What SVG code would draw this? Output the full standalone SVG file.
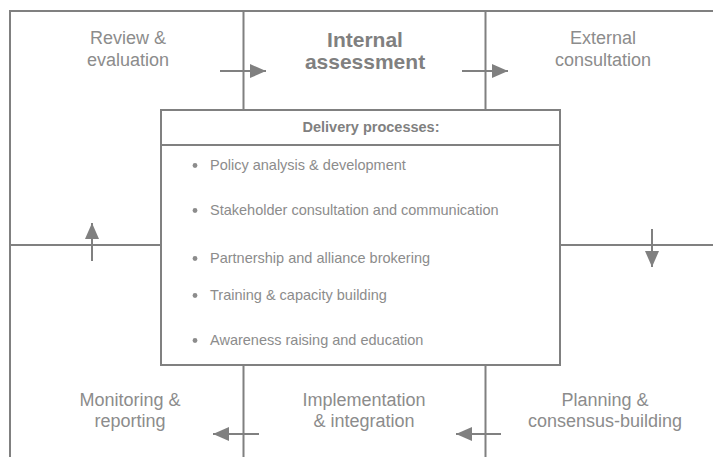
<svg xmlns="http://www.w3.org/2000/svg" width="713" height="457" viewBox="0 0 713 457">
<style>
.ln{stroke:#808080;stroke-width:2;fill:none}
.t{font-family:"Liberation Sans",Arial,sans-serif;fill:#8c8c8c;font-size:18px;text-anchor:middle}
.b{font-weight:bold;font-size:21px;fill:#808080}
.li{font-family:"Liberation Sans",Arial,sans-serif;fill:#8c8c8c;font-size:14.5px}
.hd{font-family:"Liberation Sans",Arial,sans-serif;fill:#808080;font-size:14.5px;font-weight:bold;text-anchor:middle}
.dot{fill:#8c8c8c}
</style>
<defs>
<marker id="ah" markerWidth="16" markerHeight="14" refX="16" refY="7" orient="auto" markerUnits="userSpaceOnUse">
<path d="M0,0 L16,7 L0,14 Z" fill="#808080"/>
</marker>
</defs>
<g id="frame">
<path class="ln" d="M10,457 V11 H713"/>
<path class="ln" d="M10,245 H161 M560,245 H713"/>
<path class="ln" d="M243.5,11 V110 M485.5,11 V110 M243.5,365 V457 M485.5,365 V457"/>
</g>
<g id="review"><text class="t" x="128" y="43.5">Review &amp;</text><text class="t" x="128" y="65.5">evaluation</text></g>
<g id="internal"><text class="t b" x="365" y="47">Internal</text><text class="t b" x="365" y="69">assessment</text></g>
<g id="external"><text class="t" x="603" y="43.5">External</text><text class="t" x="603" y="65.5">consultation</text></g>
<g id="monitoring"><text class="t" x="130" y="405.5">Monitoring &amp;</text><text class="t" x="130" y="427">reporting</text></g>
<g id="implementation"><text class="t" x="364" y="405.5">Implementation</text><text class="t" x="364" y="427">&amp; integration</text></g>
<g id="planning"><text class="t" x="605" y="405.5">Planning &amp;</text><text class="t" x="605" y="427">consensus-building</text></g>
<g id="delivery">
<rect class="ln" x="161" y="110" width="399" height="255" fill="#fff"/>
<line class="ln" x1="161" y1="145" x2="560" y2="145"/>
<text class="hd" x="371" y="132">Delivery processes:</text>
<circle class="dot" cx="195" cy="165.5" r="2.4"/><text class="li" x="210" y="170">Policy analysis &amp; development</text>
<circle class="dot" cx="195" cy="210.5" r="2.4"/><text class="li" x="210" y="215">Stakeholder consultation and communication</text>
<circle class="dot" cx="195" cy="258.5" r="2.4"/><text class="li" x="210" y="263">Partnership and alliance brokering</text>
<circle class="dot" cx="195" cy="295.5" r="2.4"/><text class="li" x="210" y="300">Training &amp; capacity building</text>
<circle class="dot" cx="195" cy="340.5" r="2.4"/><text class="li" x="210" y="345">Awareness raising and education</text>
</g>
<g id="connectors">
<line class="ln" x1="220" y1="71" x2="266" y2="71" marker-end="url(#ah)"/>
<line class="ln" x1="462" y1="71" x2="508" y2="71" marker-end="url(#ah)"/>
<line class="ln" x1="92" y1="261" x2="92" y2="223" marker-end="url(#ah)"/>
<line class="ln" x1="652" y1="229" x2="652" y2="267" marker-end="url(#ah)"/>
<line class="ln" x1="259" y1="434" x2="213" y2="434" marker-end="url(#ah)"/>
<line class="ln" x1="501" y1="434" x2="456" y2="434" marker-end="url(#ah)"/>
</g>
</svg>
